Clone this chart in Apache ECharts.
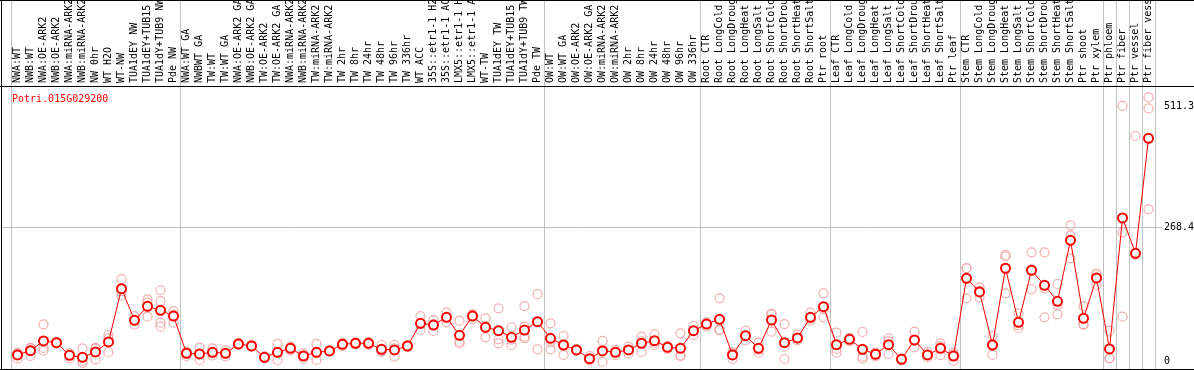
<!DOCTYPE html>
<html><head><meta charset="utf-8">
<script src="https://cdn.jsdelivr.net/npm/echarts@6/dist/echarts.min.js"></script>
<style>html,body{margin:0;padding:0;background:#fff;overflow:hidden}#c{width:1194px;height:370px}</style>
</head><body><div id="c"></div>
<script>
const geneTitle = 'Potri.015G029200';
const categories = [
 'NWA:WT','NWB:WT','NWA:OE-ARK2','NWB:OE-ARK2','NWA:miRNA-ARK2','NWB:miRNA-ARK2','NW 0hr','WT H2O','WT-NW','TUA1dEY NW','TUA1dEY+TUB15 NW','TUA1dY+TUB9 NW','Pde NW',
 'NWA:WT GA','NWBWT GA','TW:WT','TW:WT GA','NWA:OE-ARK2 GA','NWB:OE-ARK2 GA','TW:OE-ARK2','TW:OE-ARK2 GA','NWA:miRNA-ARK2 GA','NWB:miRNA-ARK2 GA','TW:miRNA-ARK2','TW:miRNA-ARK2 GA',
 'TW 2hr','TW 8hr','TW 24hr','TW 48hr','TW 96hr','TW 336hr','WT ACC','35S::etr1-1 H2O','35S::etr1-1 ACC','LMX5::etr1-1 H2O','LMX5::etr1-1 ACC','WT-TW','TUA1dEY TW','TUA1dEY+TUB15 TW','TUA1dY+TUB9 TW','Pde TW',
 'OW:WT','OW:WT GA','OW:OE-ARK2','OW:OE-ARK2 GA','OW:miRNA-ARK2','OW:miRNA-ARK2 GA','OW 2hr','OW 8hr','OW 24hr','OW 48hr','OW 96hr','OW 336hr',
 'Root CTR','Root LongCold','Root LongDrought','Root LongHeat','Root LongSalt','Root ShortCold','Root ShortDrought','Root ShortHeat','Root ShortSalt','Ptr root',
 'Leaf CTR','Leaf LongCold','Leaf LongDrought','Leaf LongHeat','Leaf LongSalt','Leaf ShortCold','Leaf ShortDrought','Leaf ShortHeat','Leaf ShortSalt','Ptr leaf',
 'Stem CTR','Stem LongCold','Stem LongDrought','Stem LongHeat','Stem LongSalt','Stem ShortCold','Stem ShortDrought','Stem ShortHeat','Stem ShortSalt','Ptr shoot','Ptr xylem',
 'Ptr phloem','Ptr fiber','Ptr vessel','Ptr fiber vessel'
];
const groupSizes = [13, 28, 12, 10, 10, 11, 1, 1, 1, 1];
const means = [
 12.9,21.5,41,37.6,12.2,8.2,18.9,39,146,82.5,110.6,102.6,91,
 16.2,14.9,18.3,16.2,35,31,8.2,18.3,26.3,10.8,18.3,20.9,34.3,36.3,36.3,24.3,22.9,30.9,76.5,73,88.5,52.4,91,68.5,61.7,48.4,63,79.7,
 46.4,32.9,22.9,5.5,20.9,18.3,22.9,36.3,41.6,28.3,26.3,61.7,
 75,84.5,12.9,51.7,26.3,83.1,37.6,47,88.5,109.8,
 33.5,44.4,24.3,14.3,33.5,4.2,43,12.9,26.3,10.8,
 166.9,139.4,32.9,187,78.5,182.9,152.8,120.7,243.2,86.5,167.5,
 24.9,288,217,448
];
const rep1 = [
 17,26,74.5,38,16,26,25.5,53,165,91,124.7,142.8,101,
 19.5,27.5,26,22,37,33,10,35,30,16,35,22,37,38,39,32.9,32.9,33,91,83,97.8,81.7,95,86.5,106.6,68.5,111,135,
 76.5,51,25,10.8,41,23,29.5,49.6,54.4,31,56.4,71,
 79,126.7,18,61.7,37.6,95.2,75,53.6,97.8,136.7,
 57.6,47,59,17.5,46.4,6,59.6,18,36.3,17.5,
 187,148.8,51,213.7,96.6,219,219,155.4,273.3,111,177,
 61.7,512.9,452.6,530
];
const rep2 = [
 6,10.8,21.5,36,6,1.4,4.2,18.3,132,73.7,118,121,77.7,
 10.8,2.8,12,10,33,29,6,2.8,22,5,2.8,20,31,34,33,19.5,9.4,29,63,61,78.5,39.6,93,48.4,44.4,32.9,69.7,24.3,
 24.3,12.9,21,1.4,-1.2,13,16,18.9,33,25,10.8,53,
 70,64.5,5,42,17.5,59.6,29.5,42,81.7,88.5,
 25,40,9.4,10,40,2,28.3,8,12.5,1.4,
 126.7,128,12.9,136.7,66.5,144.8,146.8,113,252.4,74.5,173.5,
 6.2,259.2,-15.9,508
];
const rep3 = [
 15,27,27,39,14,-3,27,46,141,83,89.8,77.7,94,
 18,14.5,17,16,35,31,8,17,27,11,17,21,35,37,37,20.5,26.4,31,75.5,75,89,35.9,85,70.6,36.3,43.8,49.6,79.8,
 38.4,34.8,23,4.3,22.9,19,23,40.4,37.4,29,11.7,61,
 76,62.3,15.7,51.4,23.8,94.5,4.8,45.4,86,104.2,
 17.5,46,5.5,15.4,14.3,4.6,41,12.7,30,13.5,
 187,141.4,34.8,210.6,72.4,185,88.5,94.6,207,74,153.4,
 6.8,89.8,214,305.4
];
const rep4 = {11: 69.7, 39: 46.4};
const yTickLabels = [0, 268.4, 511.3];
const yRange = [-15.3, 553];

const boundaries = [0];
groupSizes.forEach(s => boundaries.push(boundaries[boundaries.length - 1] + s));

const repColor = '#ec9c9c';
function repSeries(arr) {
  return {
    type: 'scatter', xAxisIndex: 0, yAxisIndex: 0,
    data: arr.map((v, i) => [i, v]),
    symbol: 'circle', symbolSize: 9,
    itemStyle: {color: 'rgba(0,0,0,0)', borderColor: repColor, borderWidth: 1.2},
    silent: true, z: 3
  };
}

const chart = echarts.init(document.getElementById('c'), null, {renderer: 'canvas'});
const mono = 'DejaVu Sans Mono';
chart.setOption({
  animation: false,
  backgroundColor: '#fff',
  title: {
    text: geneTitle, left: 7, top: 89,
    textStyle: {color: '#ff0000', fontFamily: mono, fontSize: 10, fontWeight: 'normal'}
  },
  grid: [
    {left: 11, right: 39, top: 86, bottom: 1, outerBoundsMode: 'none', containLabel: false},
    {left: 11, right: 39, top: 0, bottom: 1, outerBoundsMode: 'none', containLabel: false},
    {left: 1, right: 32, top: 86, bottom: 1, outerBoundsMode: 'none', containLabel: false}
  ],
  xAxis: [
    {type: 'category', gridIndex: 0, data: categories, position: 'top', boundaryGap: true,
     axisLine: {show: false}, axisTick: {show: false}, splitLine: {show: false},
     axisLabel: {interval: 0, rotate: 90, margin: 3, color: '#000', fontFamily: mono, fontSize: 10, hideOverlap: false}},
    {type: 'value', gridIndex: 1, min: 0, max: categories.length, show: false},
    {type: 'value', gridIndex: 2, min: 0, max: 1, show: false}
  ],
  yAxis: [
    {type: 'value', gridIndex: 0, min: yRange[0], max: yRange[1], position: 'right',
     axisLine: {show: false}, axisTick: {show: false}, splitLine: {show: false},
     axisLabel: {customValues: yTickLabels, margin: 9, color: '#000', fontFamily: mono, fontSize: 10,
       formatter: v => String(v)}},
    {type: 'value', gridIndex: 1, min: 0, max: 1, show: false},
    {type: 'value', gridIndex: 2, min: yRange[0], max: yRange[1], show: false}
  ],
  series: [
    {type: 'line', xAxisIndex: 1, yAxisIndex: 1, data: [], silent: true, z: 1,
     markLine: {silent: true, symbol: ['none', 'none'], label: {show: false},
       lineStyle: {color: '#c0c0c0', width: 1, type: 'solid'},
       data: boundaries.map(b => ({xAxis: b}))}},
    {type: 'line', xAxisIndex: 2, yAxisIndex: 2, data: [], silent: true, z: 1,
     markLine: {silent: true, symbol: ['none', 'none'], label: {show: false},
       lineStyle: {color: '#c0c0c0', width: 1, type: 'solid'},
       data: [{yAxis: yTickLabels[1]}]}},
    repSeries(rep1), repSeries(rep2), repSeries(rep3),
    {type: 'scatter', xAxisIndex: 0, yAxisIndex: 0,
     data: Object.keys(rep4).map(k => [Number(k), rep4[k]]),
     symbol: 'circle', symbolSize: 9,
     itemStyle: {color: 'rgba(0,0,0,0)', borderColor: repColor, borderWidth: 1.2}, silent: true, z: 3},
    {type: 'line', xAxisIndex: 0, yAxisIndex: 0, data: means,
     symbol: 'circle', symbolSize: 9, showAllSymbol: true,
     lineStyle: {color: '#ff0000', width: 1},
     itemStyle: {color: '#ffffff', borderColor: '#ff0000', borderWidth: 2},
     silent: true, z: 5}
  ],
  graphic: [
    {type: 'line', shape: {x1: 0, y1: 0.5, x2: 1194, y2: 0.5}, style: {stroke: '#000', lineWidth: 1}, z: 10, silent: true},
    {type: 'line', shape: {x1: 0, y1: 86.5, x2: 1194, y2: 86.5}, style: {stroke: '#000', lineWidth: 1}, z: 10, silent: true},
    {type: 'line', shape: {x1: 0, y1: 369.5, x2: 1194, y2: 369.5}, style: {stroke: '#000', lineWidth: 1}, z: 10, silent: true},
    {type: 'line', shape: {x1: 1.5, y1: 0, x2: 1.5, y2: 370}, style: {stroke: '#000', lineWidth: 1}, z: 10, silent: true}
  ]
});
</script></body></html>
